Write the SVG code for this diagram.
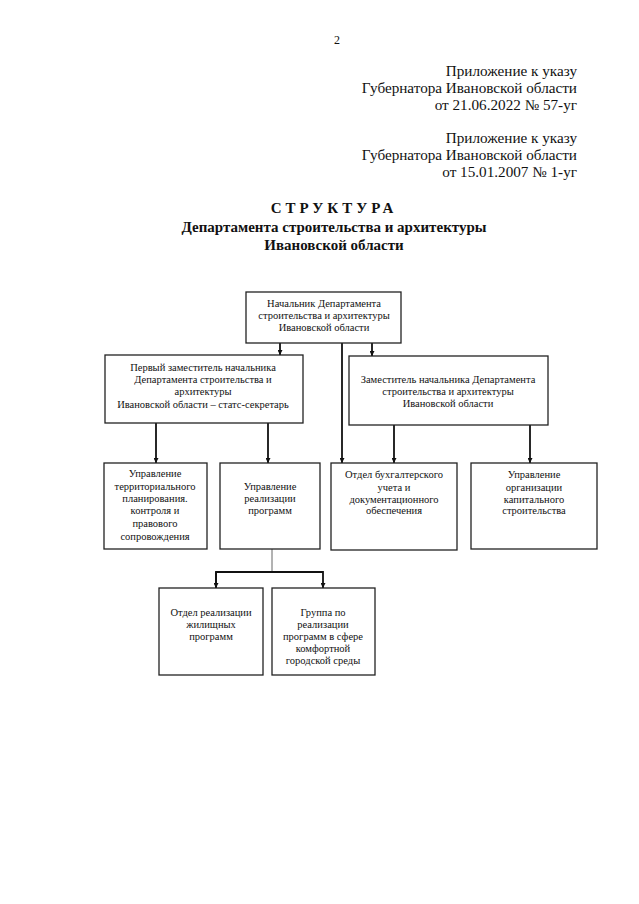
<svg xmlns="http://www.w3.org/2000/svg" width="639" height="904" viewBox="0 0 639 904">
<style>
text{font-family:"Liberation Serif","Times New Roman",serif;fill:#111}
.hd{font-size:15.2px;text-anchor:end}
.tt{font-size:15px;font-weight:bold;text-anchor:middle}
.bx rect{fill:#fff;stroke:#222;stroke-width:1.3}
.bx text{font-size:10.5px;text-anchor:middle}
.c{stroke:#111;stroke-width:1.8;fill:none}
.thin{stroke:#666;stroke-width:1;fill:none}
</style>
<defs>
<marker id="ar" viewBox="0 0 10 10" refX="10" refY="5" markerWidth="5" markerHeight="5" orient="auto" markerUnits="userSpaceOnUse">
<path d="M0,0 L10,5 L0,10 z" fill="#111"/>
</marker>
</defs>
<rect width="639" height="904" fill="#fff"/>
<text x="337" y="44" style="font-size:12px;text-anchor:middle">2</text>
<text class="hd" x="577" y="76">Приложение к указу</text>
<text class="hd" x="577" y="93">Губернатора Ивановской области</text>
<text class="hd" x="577" y="110">от 21.06.2022 № 57-уг</text>
<text class="hd" x="577" y="143">Приложение к указу</text>
<text class="hd" x="577" y="160">Губернатора Ивановской области</text>
<text class="hd" x="577" y="177">от 15.01.2007 № 1-уг</text>
<text class="tt" x="334" y="213" style="letter-spacing:4px">СТРУКТУРА</text>
<text class="tt" x="334" y="232">Департамента строительства и архитектуры</text>
<text class="tt" x="334" y="250">Ивановской области</text>

<g id="connectors">
<line class="c" x1="280" y1="343" x2="280" y2="355" marker-end="url(#ar)"/>
<line class="c" x1="372" y1="343" x2="372" y2="356" marker-end="url(#ar)"/>
<line class="c" x1="342" y1="343" x2="342" y2="463" marker-end="url(#ar)"/>
<line class="c" x1="156" y1="423" x2="156" y2="463" marker-end="url(#ar)"/>
<line class="c" x1="268" y1="423" x2="268" y2="463" marker-end="url(#ar)"/>
<line class="c" x1="394" y1="425" x2="394" y2="463" marker-end="url(#ar)"/>
<line class="c" x1="530" y1="425" x2="530" y2="463" marker-end="url(#ar)"/>
<line class="thin" x1="272" y1="549" x2="272" y2="572"/>
<path class="c" d="M216,588 V572 H323 V588" marker-end="url(#ar)"/>
<line class="c" x1="216" y1="572" x2="216" y2="588" marker-end="url(#ar)"/>
</g>

<g id="head" class="bx">
<rect x="246" y="292" width="155" height="51"/>
<text x="324" y="307">Начальник Департамента</text>
<text x="324" y="319">строительства и архитектуры</text>
<text x="324" y="331">Ивановской области</text>
</g>
<g id="deputy1" class="bx">
<rect x="105" y="355" width="198" height="68"/>
<text x="203" y="371">Первый заместитель начальника</text>
<text x="203" y="383">Департамента строительства и</text>
<text x="203" y="395">архитектуры</text>
<text x="203" y="408">Ивановской области – статс-секретарь</text>
</g>
<g id="deputy2" class="bx">
<rect x="349" y="356" width="199" height="69"/>
<text x="448" y="383">Заместитель начальника Департамента</text>
<text x="448" y="395">строительства и архитектуры</text>
<text x="448" y="407">Ивановской области</text>
</g>
<g id="upr-terr" class="bx">
<rect x="104" y="463" width="103" height="86"/>
<text x="155" y="477">Управление</text>
<text x="155" y="490">территориального</text>
<text x="155" y="502">планирования.</text>
<text x="155" y="514">контроля и</text>
<text x="155" y="527">правового</text>
<text x="155" y="540">сопровождения</text>
</g>
<g id="upr-real" class="bx">
<rect x="220" y="463" width="100" height="86"/>
<text x="270" y="490">Управление</text>
<text x="270" y="502">реализации</text>
<text x="270" y="514">программ</text>
</g>
<g id="otdel-buh" class="bx">
<rect x="331" y="463" width="126" height="87"/>
<text x="394" y="478">Отдел бухгалтерского</text>
<text x="394" y="491">учета и</text>
<text x="394" y="503">документационного</text>
<text x="394" y="514">обеспечения</text>
</g>
<g id="upr-kap" class="bx">
<rect x="471" y="463" width="126" height="86"/>
<text x="534" y="478">Управление</text>
<text x="534" y="491">организации</text>
<text x="534" y="503">капитального</text>
<text x="534" y="514">строительства</text>
</g>
<g id="otdel-zhil" class="bx">
<rect x="159" y="588" width="104" height="87"/>
<text x="211" y="616">Отдел реализации</text>
<text x="211" y="628">жилищных</text>
<text x="211" y="640">программ</text>
</g>
<g id="gruppa" class="bx">
<rect x="272" y="588" width="103" height="87"/>
<text x="323" y="616">Группа по</text>
<text x="323" y="628">реализации</text>
<text x="323" y="640">программ в сфере</text>
<text x="323" y="652">комфортной</text>
<text x="323" y="664">городской среды</text>
</g>
</svg>
